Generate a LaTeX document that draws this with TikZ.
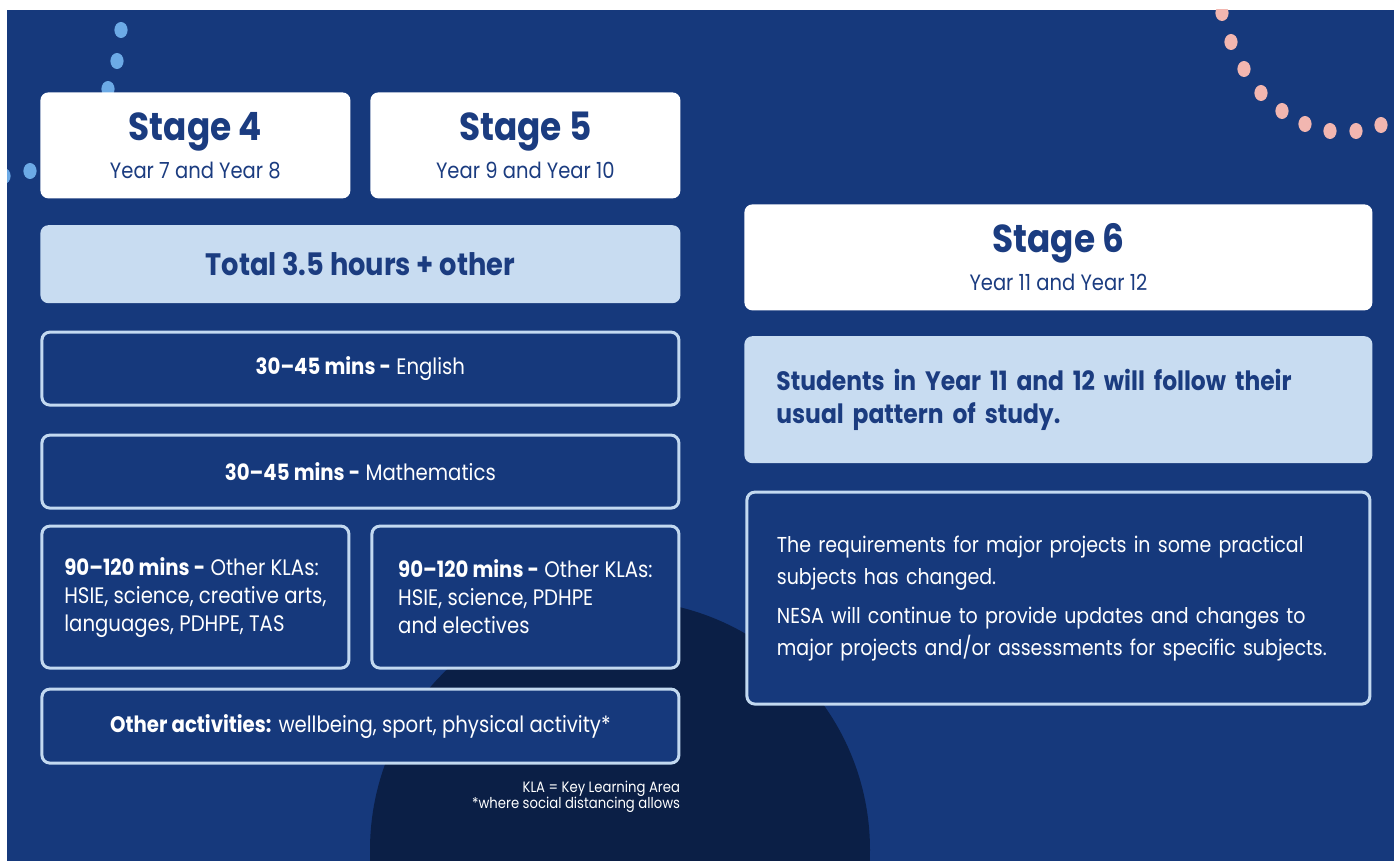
\documentclass[tikz,border=0pt]{standalone}
\usepackage{fontspec}
\setmainfont{Poppins}[FakeStretch=0.88]
\usetikzlibrary{positioning}
\definecolor{nightBlue}{HTML}{16397C}
\definecolor{deepNavy}{HTML}{0B1F46}
\definecolor{paleBlue}{HTML}{C8DCF1}
\definecolor{edgeBlue}{HTML}{C3D9F0}
\definecolor{inkBlue}{HTML}{1B3C80}
\definecolor{dotBlue}{HTML}{6CAAE6}
\definecolor{dotPink}{HTML}{F2B6B0}
\tikzset{
    stagecard/.style={fill=white,rounded corners=4pt,text=inkBlue,align=center,
        inner sep=0pt,minimum height=53pt,font=\fontsize{11.1}{19}\selectfont},
    notecard/.style={fill=paleBlue,rounded corners=4pt,text=inkBlue,inner sep=0pt},
    slotbox/.style={draw=edgeBlue,line width=1.5pt,fill=nightBlue,rounded corners=4pt,
        text=white,inner sep=0pt,font=\fontsize{11.2}{14}\selectfont},
    bluedot/.style={fill=dotBlue,x radius=3.3pt,y radius=4pt},
    pinkdot/.style={fill=dotPink,x radius=3.3pt,y radius=4pt}
}

\begin{document}
\begin{tikzpicture}[x=0.5pt,y=-0.5pt]
    % page and background
    \fill[white] (0,0) rectangle (1394,861);
    \fill[nightBlue] (7,10) rectangle (1394,861);
    \useasboundingbox (0,0) rectangle (1394,861);
    \begin{scope}
        \clip (7,10) rectangle (1394,861);
        \fill[deepNavy] (620,850) circle[radius=125pt];
        \foreach \px/\py in {121/30,117/61,108/89,30/171,4/176}
            \fill[bluedot] (\px,\py) ellipse[];
        \foreach \px/\py in {1222/13,1231/42,1244/69,1261/93,1282/111,1305/124,1330/131,1356/131,1381/125}
            \fill[pinkdot] (\px,\py) ellipse[];
    \end{scope}

    % stages 4 and 5
    \node[stagecard,minimum width=155pt,anchor=north west] (stagefour) at (40,92)
        {{\fontsize{19.5}{19}\selectfont\bfseries Stage 4}\\Year 7 and Year 8};
    \node[stagecard,minimum width=155pt,right=9.6pt of stagefour] (stagefive)
        {{\fontsize{19.5}{19}\selectfont\bfseries Stage 5}\\Year 9 and Year 10};
    \node[notecard,minimum width=320pt,minimum height=39pt,font=\fontsize{15.5}{16}\selectfont\bfseries,
        below=13pt of stagefour.south west,anchor=north west] (total) {\raisebox{-1.5pt}{Total 3.5 hours + other}};
    \node[slotbox,minimum width=318.5pt,minimum height=36.5pt,below=13.5pt of total] (english)
        {\textbf{30--45 mins -} English};
    \node[slotbox,minimum width=318.5pt,minimum height=36.5pt,below=13.5pt of english] (maths)
        {\textbf{30--45 mins -} Mathematics};
    \node[slotbox,minimum width=153.5pt,minimum height=71pt,align=left,
        below=7.5pt of maths.south west,anchor=north west] (klafour)
        {\textbf{90--120 mins -} Other KLAs:\\HSIE, science, creative arts,\\languages, PDHPE, TAS};
    \node[slotbox,minimum width=153.5pt,minimum height=71pt,align=left,
        right=10pt of klafour] (klafive)
        {\textbf{90--120 mins -} Other KLAs:\\HSIE, science, PDHPE\\and electives};
    \node[slotbox,minimum width=318.5pt,minimum height=37pt,
        below=9pt of klafour.south west,anchor=north west] (other)
        {\textbf{Other activities:} wellbeing, sport, physical activity*};
    \node[text=white,align=right,inner sep=0pt,font=\fontsize{7.5}{8}\selectfont,
        below=8pt of other.south east,anchor=north east] (footnote)
        {KLA = Key Learning Area\\*where social distancing allows};

    % stage 6
    \node[stagecard,minimum width=314pt,anchor=north west] (stagesix) at (744,204)
        {{\fontsize{19.5}{19}\selectfont\bfseries Stage 6}\\Year 11 and Year 12};
    \node[notecard,minimum width=314pt,minimum height=63.5pt,inner xsep=16pt,text width=282pt,align=left,
        font=\fontsize{13.3}{16.5}\selectfont\bfseries,below=12.5pt of stagesix] (students)
        {Students in Year 11 and 12 will follow their\\usual pattern of study.};
    \node[slotbox,minimum width=311.5pt,minimum height=106pt,inner xsep=15pt,text width=281.5pt,align=left,
        font=\fontsize{10.8}{16}\selectfont,below=13.5pt of students] (changes)
        {The requirements for major projects in some practical\\subjects has changed.\\[3.5pt]
         NESA will continue to provide updates and changes to\\major projects and/or assessments for specific subjects.};
\end{tikzpicture}
\end{document}
